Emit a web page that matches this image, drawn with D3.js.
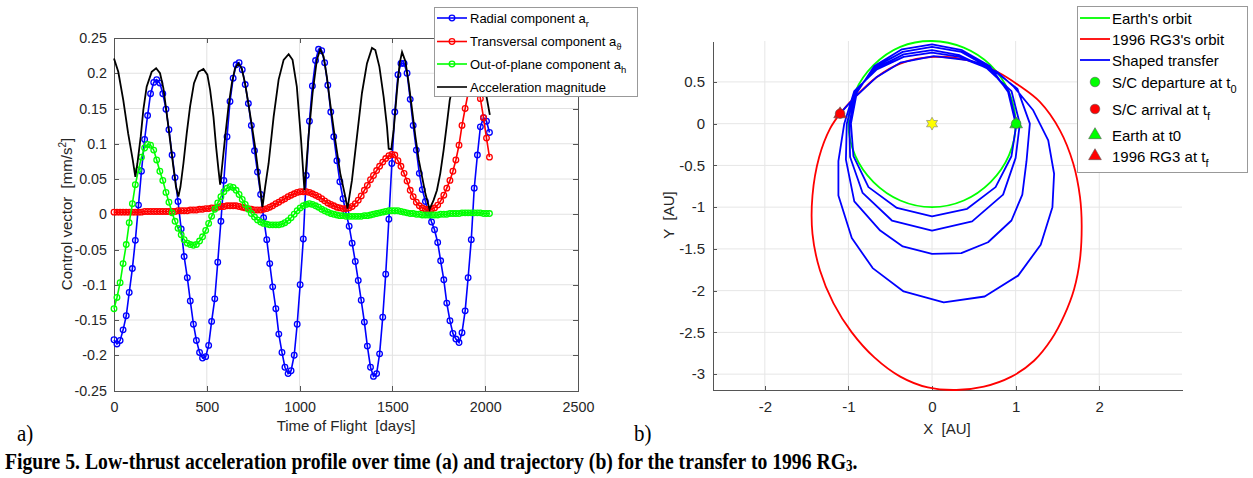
<!DOCTYPE html>
<meta charset="utf-8">
<script src="https://d3js.org/d3.v7.min.js"></script>
<style>
  body { margin: 0; background: #fff; }
  text { font-family: "Liberation Sans", Arial, sans-serif; fill: #262626; }
  .axis path, .axis line { stroke: #555; shape-rendering: crispEdges; }
</style>
<svg id="fig" width="1253" height="478"></svg>
<script>

// ---------- panel a) : control vector over time of flight ----------
var tofDays = [0,16,33,49,66,82,99,115,132,148,
  165,181,197,214,230,247,263,280,296,313,
  329,345,362,378,395,411,428,444,461,477,
  494,510,526,543,559,576,592,609,625,642,
  658,674,691,707,724,740,757,773,790,806,
  823,839,855,872,888,905,921,938,954,971,
  987,1003,1020,1036,1053,1069,1086,1102,1119,1135,
  1152,1168,1184,1201,1217,1234,1250,1267,1283,1300,
  1316,1332,1349,1365,1382,1398,1415,1431,1448,1464,
  1481,1497,1513,1530,1546,1563,1579,1596,1612,1629,
  1645,1661,1678,1694,1711,1727,1744,1760,1777,1793,
  1810,1826,1842,1859,1875,1892,1908,1925,1941,1958,
  1974,1991,2007,2023];

var radialAcc = [-0.178,-0.184,-0.179,-0.164,-0.144,-0.111,-0.077,-0.037,0.013,0.061,
  0.106,0.140,0.171,0.187,0.191,0.186,0.171,0.149,0.120,0.084,
  0.052,0.018,-0.021,-0.060,-0.090,-0.123,-0.156,-0.179,-0.196,-0.204,
  -0.202,-0.186,-0.152,-0.120,-0.068,-0.010,0.048,0.110,0.160,0.193,
  0.212,0.215,0.205,0.184,0.157,0.126,0.090,0.060,0.028,-0.005,
  -0.036,-0.070,-0.103,-0.134,-0.170,-0.196,-0.217,-0.226,-0.222,-0.200,
  -0.156,-0.100,-0.035,0.055,0.132,0.182,0.218,0.234,0.232,0.215,
  0.183,0.145,0.110,0.076,0.046,0.022,0.002,-0.017,-0.041,-0.067,
  -0.094,-0.122,-0.153,-0.187,-0.217,-0.230,-0.226,-0.198,-0.146,-0.085,
  -0.007,0.072,0.145,0.198,0.214,0.214,0.200,0.163,0.126,0.091,
  0.058,0.035,0.018,0.002,-0.011,-0.022,-0.040,-0.066,-0.093,-0.126,
  -0.151,-0.169,-0.177,-0.182,-0.168,-0.137,-0.090,-0.036,0.037,0.084,
  0.124,0.137,0.132,0.116];

var transversalAcc = [0.003,0.003,0.003,0.003,0.003,0.003,0.003,0.003,0.003,0.003,
  0.004,0.004,0.004,0.004,0.004,0.004,0.004,0.004,0.004,0.004,
  0.004,0.005,0.005,0.005,0.005,0.006,0.006,0.006,0.007,0.007,
  0.008,0.008,0.009,0.009,0.010,0.011,0.011,0.012,0.012,0.012,
  0.012,0.011,0.010,0.009,0.008,0.007,0.006,0.006,0.006,0.007,
  0.008,0.010,0.012,0.015,0.017,0.020,0.022,0.025,0.027,0.029,
  0.031,0.032,0.032,0.032,0.031,0.029,0.027,0.025,0.022,0.019,
  0.016,0.014,0.012,0.010,0.009,0.008,0.008,0.009,0.011,0.015,
  0.020,0.026,0.034,0.041,0.049,0.055,0.062,0.068,0.074,0.079,
  0.083,0.085,0.084,0.076,0.068,0.058,0.047,0.034,0.025,0.017,
  0.012,0.009,0.007,0.007,0.007,0.009,0.013,0.019,0.027,0.037,
  0.048,0.061,0.077,0.098,0.126,0.150,0.172,0.192,0.203,0.190,
  0.164,0.137,0.108,0.081];

var outOfPlaneAcc = [-0.134,-0.118,-0.097,-0.070,-0.043,-0.012,0.015,0.042,0.063,0.081,
  0.094,0.099,0.098,0.091,0.077,0.061,0.048,0.031,0.017,0.002,
  -0.010,-0.020,-0.029,-0.036,-0.041,-0.043,-0.044,-0.043,-0.038,-0.032,
  -0.023,-0.013,-0.003,0.007,0.016,0.025,0.032,0.037,0.039,0.038,
  0.034,0.028,0.021,0.014,0.007,0.001,-0.004,-0.008,-0.011,-0.013,
  -0.014,-0.015,-0.015,-0.015,-0.015,-0.014,-0.012,-0.009,-0.005,0.000,
  0.005,0.009,0.012,0.014,0.015,0.014,0.012,0.010,0.007,0.005,
  0.003,0.001,0.000,-0.001,-0.002,-0.002,-0.003,-0.003,-0.003,-0.003,
  -0.003,-0.003,-0.002,-0.002,-0.001,0.000,0.001,0.002,0.003,0.004,
  0.005,0.005,0.005,0.005,0.004,0.003,0.002,0.001,0.001,0.000,
  0.000,-0.001,-0.001,-0.001,-0.001,-0.001,-0.001,0.000,0.000,0.000,
  0.001,0.001,0.001,0.001,0.002,0.002,0.002,0.002,0.002,0.002,
  0.002,0.001,0.001,0.001];

// acceleration magnitude, read as its own curve
var magnitudeDays = [0,23,50,76,101,115,126,144,158,176,203,227,248,266,284,302,320,334,347,358,
  374,392,410,431,455,482,503,518,536,550,563,572,584,599,617,635,652,670,688,706,
  724,742,760,778,790,800,815,833,860,887,914,941,962,985,1008,1026,1048,1070,1093,1111,
  1129,1147,1165,1192,1219,1243,1258,1282,1309,1336,1363,1390,1408,1430,1453,1471,1480,1494,1507,1525,
  1539,1552,1570,1588,1606,1624,1642,1660,1678,1700,1722,1740,1758,1776,1794,1809,1826,1842,1859,1875,
  1892,1908,1925,1941,1958,1974,1991,2007,2025];
var magnitudeAcc = [0.221,0.202,0.162,0.115,0.077,0.053,0.072,0.110,0.148,0.181,0.202,0.207,0.200,0.179,0.143,0.105,0.067,0.039,0.025,0.039,
  0.072,0.115,0.153,0.186,0.202,0.206,0.198,0.176,0.138,0.096,0.063,0.042,0.072,0.110,0.153,0.186,0.207,0.214,0.207,0.186,
  0.157,0.127,0.096,0.058,0.032,0.010,0.040,0.072,0.138,0.191,0.219,0.227,0.219,0.181,0.105,0.034,0.110,0.172,0.219,0.234,
  0.224,0.195,0.157,0.105,0.058,0.029,0.008,0.048,0.110,0.172,0.214,0.236,0.233,0.209,0.166,0.124,0.093,0.092,0.120,0.176,
  0.214,0.230,0.217,0.186,0.148,0.110,0.077,0.053,0.029,0.007,0.020,0.034,0.058,0.091,0.129,0.162,0.182,0.196,0.207,0.210,
  0.200,0.192,0.196,0.205,0.208,0.198,0.186,0.167,0.141];

var dayTicks = [0,500,1000,1500,2000,2500];
var accTicks = [-0.25,-0.2,-0.15,-0.1,-0.05,0,0.05,0.1,0.15,0.2,0.25];

// ---------- panel b) : trajectory in the ecliptic ----------
var earthOrbit = [[1.00,0.00],[0.92,0.38],[0.70,0.70],[0.38,0.91],[0.00,0.99],[-0.38,0.92],[-0.70,0.70],[-0.92,0.38],
  [-1.00,0.00],[-0.92,-0.38],[-0.70,-0.70],[-0.38,-0.92],[0.00,-1.00],[0.38,-0.92],[0.70,-0.70],[0.92,-0.38]];

var rg3Orbit = [[-1.10,0.12],[-0.94,0.30],[-0.66,0.56],[-0.38,0.72],[0.02,0.80],[0.42,0.76],[0.80,0.61],[1.05,0.45],
  [1.29,0.26],[1.53,-0.08],[1.69,-0.48],[1.77,-0.88],[1.79,-1.22],[1.77,-1.62],[1.70,-1.98],[1.58,-2.30],[1.43,-2.58],
  [1.22,-2.84],[0.95,-3.03],[0.62,-3.15],[0.29,-3.19],[-0.05,-3.16],[-0.38,-3.03],[-0.69,-2.80],[-0.96,-2.50],
  [-1.18,-2.15],[-1.34,-1.76],[-1.43,-1.32],[-1.43,-0.86],[-1.35,-0.40],[-1.22,-0.06]];

var shapedTransfer = [
  [1.00,0.00],[0.91,0.38],[0.69,0.69],[0.36,0.88],[0.00,0.95],[-0.36,0.89],[-0.69,0.69],[-0.90,0.37],
  [-0.97,0.00],[-0.94,-0.39],[-0.76,-0.76],[-0.42,-1.01],[0.00,-1.11],[0.42,-1.02],[0.76,-0.76],[0.95,-0.39],
  [1.01,0.00],[0.92,0.38],[0.67,0.68],[0.35,0.86],[0.00,0.92],[-0.35,0.86],[-0.68,0.68],[-0.91,0.38],
  [-0.99,0.00],[-0.98,-0.40],[-0.83,-0.83],[-0.48,-1.16],[0.00,-1.28],[0.48,-1.17],[0.85,-0.85],[1.00,-0.41],
  [1.05,0.00],[0.95,0.39],[0.66,0.66],[0.33,0.82],[0.00,0.88],[-0.34,0.83],[-0.66,0.67],[-0.92,0.38],
  [-1.02,0.00],[-1.03,-0.43],[-0.93,-0.93],[-0.62,-1.28],[-0.35,-1.47],[0.00,-1.56],[0.35,-1.55],[0.67,-1.42],
  [0.95,-1.16],[1.08,-0.85],[1.13,-0.45],
  [1.17,0.00],[1.02,0.42],[0.68,0.68],[0.33,0.80],[0.00,0.85],[-0.34,0.80],[-0.66,0.65],[-0.93,0.39],
  [-1.05,0.00],[-1.12,-0.45],[-1.12,-0.86],[-0.96,-1.37],[-0.71,-1.73],[-0.34,-2.01],[0.14,-2.14],[0.63,-2.07],
  [1.03,-1.82],[1.30,-1.45],[1.44,-1.00],[1.46,-0.60],[1.39,-0.20],[1.21,0.16],[0.98,0.44],
  [0.78,0.62],[0.42,0.76],[0.02,0.81],[-0.38,0.73],[-0.66,0.56],[-0.94,0.30],[-1.10,0.12]];

var departure = [1.006, 0.0];
var arrival = [-1.10, 0.12];
var sunPos = [0, 0];
var auTicksX = [-2,-1,0,1,2];
var auTicksY = [-3,-2.5,-2,-1.5,-1,-0.5,0,0.5];

var svg = d3.select("#fig");

// ======================= panel a =======================
var xA = d3.scaleLinear().domain([0, 2500]).range([114, 578]);
var yA = d3.scaleLinear().domain([-0.25, 0.25]).range([390.5, 38]);

var pa = svg.append("g");

// grid
pa.append("g").selectAll("line").data(dayTicks.slice(1, -1)).join("line")
  .attr("x1", d => xA(d)).attr("x2", d => xA(d))
  .attr("y1", yA(0.25)).attr("y2", yA(-0.25))
  .attr("stroke", "#e2e2e2");
pa.append("g").selectAll("line").data(accTicks.slice(1, -1)).join("line")
  .attr("x1", xA(0)).attr("x2", xA(2500))
  .attr("y1", d => yA(d)).attr("y2", d => yA(d))
  .attr("stroke", "#e2e2e2");

// axes (ticks inside, like matlab)
pa.append("g").attr("class", "axis").attr("transform", "translate(114,0)")
  .call(d3.axisLeft(yA).tickValues(accTicks).tickSizeInner(-5).tickSizeOuter(0).tickPadding(7).tickFormat(d => String(d)));
pa.append("g").attr("class", "axis").attr("transform", "translate(0,390.5)")
  .call(d3.axisBottom(xA).tickValues(dayTicks).tickSizeInner(-5).tickSizeOuter(0).tickPadding(11).tickFormat(d => String(d)));
pa.append("g").attr("class", "axis").attr("transform", "translate(578,0)")
  .call(d3.axisRight(yA).tickValues(accTicks).tickSizeInner(-5).tickSizeOuter(0).tickFormat(""));
pa.append("g").attr("class", "axis").attr("transform", "translate(0,38)")
  .call(d3.axisTop(xA).tickValues(dayTicks).tickSizeInner(-5).tickSizeOuter(0).tickFormat(""));
pa.selectAll(".axis text").style("font-size", "14.3px").style("fill", "#262626");

// component series: line + open circle markers
function drawSeries(values, color) {
  var g = pa.append("g");
  g.append("path").datum(values)
    .attr("d", d3.line().x((d, i) => xA(tofDays[i])).y(d => yA(d)))
    .attr("fill", "none").attr("stroke", color).attr("stroke-width", 1.6);
  g.selectAll("circle").data(values).join("circle")
    .attr("cx", (d, i) => xA(tofDays[i])).attr("cy", d => yA(d))
    .attr("r", 2.8).attr("fill", "none").attr("stroke", color).attr("stroke-width", 1.3);
}
drawSeries(radialAcc, "#0000ff");
drawSeries(transversalAcc, "#ff0000");
drawSeries(outOfPlaneAcc, "#00ff00");

pa.append("path").datum(magnitudeAcc)
  .attr("d", d3.line().x((d, i) => xA(magnitudeDays[i])).y(d => yA(d)))
  .attr("fill", "none").attr("stroke", "#000").attr("stroke-width", 1.8);

// axis labels
pa.append("text").attr("x", 346).attr("y", 431).attr("text-anchor", "middle")
  .style("font-size", "15px").text("Time of Flight\u00a0\u00a0[days]");
var yl = pa.append("text").attr("transform", "translate(72,214) rotate(-90)").attr("text-anchor", "middle")
  .style("font-size", "15px");
yl.append("tspan").text("Control vector\u00a0\u00a0[mm/s");
yl.append("tspan").attr("dy", -6).style("font-size", "10px").text("2");
yl.append("tspan").attr("dy", 6).text("]");

// legend a
var legA = pa.append("g");
legA.append("rect").attr("x", 434.5).attr("y", 7.5).attr("width", 203).attr("height", 89)
  .attr("fill", "#fff").attr("stroke", "#999");
var legAItems = [
  {label: "Radial component a", sub: "r", color: "#0000ff", mark: true},
  {label: "Transversal component a", sub: "\u03d1", color: "#ff0000", mark: true},
  {label: "Out-of-plane component a", sub: "h", color: "#00ff00", mark: true},
  {label: "Acceleration magnitude", sub: "", color: "#000", mark: false}
];
var legAy = [18, 41.5, 64, 87];
legAItems.forEach(function(it, i) {
  var cy = legAy[i];
  legA.append("line").attr("x1", 437).attr("x2", 467).attr("y1", cy).attr("y2", cy)
    .attr("stroke", it.color).attr("stroke-width", 1.6);
  if (it.mark) legA.append("circle").attr("cx", 452).attr("cy", cy).attr("r", 2.8)
    .attr("fill", "none").attr("stroke", it.color).attr("stroke-width", 1.3);
  var t = legA.append("text").attr("x", 470).attr("y", cy + 4.5).style("font-size", "13px").style("fill", "#000");
  t.append("tspan").text(it.label);
  if (it.sub) t.append("tspan").attr("dy", 4).style("font-size", "9.5px").text(it.sub);
});

// ======================= panel b =======================
var xB = d3.scaleLinear().domain([-2.62, 2.99]).range([713, 1182]);
var yB = d3.scaleLinear().domain([-3.19, 0.99]).range([390, 41]);

var pb = svg.append("g");
pb.append("g").selectAll("line").data(auTicksX).join("line")
  .attr("x1", d => xB(d)).attr("x2", d => xB(d)).attr("y1", 41).attr("y2", 390)
  .attr("stroke", "#e6e6e6");
pb.append("g").selectAll("line").data(auTicksY).join("line")
  .attr("x1", 713).attr("x2", 1182).attr("y1", d => yB(d)).attr("y2", d => yB(d))
  .attr("stroke", "#e6e6e6");

pb.append("g").attr("class", "axis").attr("transform", "translate(713,0)")
  .call(d3.axisLeft(yB).tickValues(auTicksY).tickSizeInner(-4).tickSizeOuter(0).tickPadding(8).tickFormat(d => String(d)));
pb.append("g").attr("class", "axis").attr("transform", "translate(0,390)")
  .call(d3.axisBottom(xB).tickValues(auTicksX).tickSizeInner(-4).tickSizeOuter(0).tickPadding(11).tickFormat(d => String(d)));
pb.selectAll(".axis text").style("font-size", "15px").style("fill", "#262626");

var orbitLine = d3.line().x(d => xB(d[0])).y(d => yB(d[1])).curve(d3.curveCatmullRomClosed);
pb.append("path").datum(earthOrbit).attr("d", orbitLine)
  .attr("fill", "none").attr("stroke", "#00ff00").attr("stroke-width", 1.8);
pb.append("path").datum(rg3Orbit).attr("d", orbitLine)
  .attr("fill", "none").attr("stroke", "#ff0000").attr("stroke-width", 1.8);
pb.append("path").datum(shapedTransfer)
  .attr("d", d3.line().x(d => xB(d[0])).y(d => yB(d[1])))
  .attr("fill", "none").attr("stroke", "#0000ff").attr("stroke-width", 1.8).attr("stroke-linejoin", "round");

var tri = d3.symbol().type(d3.symbolTriangle).size(70);
function marker(g, pos, color, shape) {
  var px = xB(pos[0]), py = yB(pos[1]);
  if (shape == "tri") {
    g.append("path").attr("d", tri).attr("transform", "translate(" + px + "," + (py + 0.5) + ")")
      .attr("fill", color).attr("stroke", "#555").attr("stroke-width", 0.6);
  } else {
    g.append("circle").attr("cx", px).attr("cy", py).attr("r", 4.8)
      .attr("fill", color).attr("stroke", "#555").attr("stroke-width", 0.6);
  }
}
marker(pb, departure, "#00ff00", "tri");
marker(pb, arrival, "#ff0000", "tri");
marker(pb, departure, "#00ff00", "dot");
marker(pb, arrival, "#ff0000", "dot");

// sun: six-pointed star
var starPts = d3.range(12).map(function(k) {
  var a = (-90 + k * 30) * Math.PI / 180, r = k % 2 ? 3.6 : 6.4;
  return [xB(sunPos[0]) + r * Math.cos(a), yB(sunPos[1]) + r * Math.sin(a)];
});
pb.append("path").attr("d", "M" + starPts.join("L") + "Z")
  .attr("fill", "#ffff00").attr("stroke", "#777").attr("stroke-width", 0.6);

pb.append("text").attr("x", 947).attr("y", 434).attr("text-anchor", "middle")
  .style("font-size", "15px").text("X\u00a0\u00a0[AU]");
pb.append("text").attr("transform", "translate(674,215) rotate(-90)").attr("text-anchor", "middle")
  .style("font-size", "15px").text("Y\u00a0\u00a0[AU]");

// legend b
var legB = pb.append("g");
legB.append("rect").attr("x", 1077.5).attr("y", 6.5).attr("width", 170).attr("height", 166)
  .attr("fill", "#fff").attr("stroke", "#999");
var legBItems = [
  {label: "Earth's orbit", sub: "", color: "#00ff00", kind: "line"},
  {label: "1996 RG3's orbit", sub: "", color: "#ff0000", kind: "line"},
  {label: "Shaped transfer", sub: "", color: "#0000ff", kind: "line"},
  {label: "S/C departure at t", sub: "0", color: "#00ff00", kind: "dot"},
  {label: "S/C arrival at t", sub: "f", color: "#ff0000", kind: "dot"},
  {label: "Earth at t0", sub: "", color: "#00ff00", kind: "tri"},
  {label: "1996 RG3 at t", sub: "f", color: "#ff0000", kind: "tri"}
];
var legBy = [18, 39, 60, 82, 109, 135, 156];
legBItems.forEach(function(it, i) {
  var cy = legBy[i];
  if (it.kind == "line") {
    legB.append("line").attr("x1", 1080).attr("x2", 1110).attr("y1", cy).attr("y2", cy)
      .attr("stroke", it.color).attr("stroke-width", 1.8);
  } else if (it.kind == "dot") {
    legB.append("circle").attr("cx", 1095).attr("cy", cy).attr("r", 4.8)
      .attr("fill", it.color).attr("stroke", "#555").attr("stroke-width", 0.6);
  } else {
    legB.append("path").attr("d", tri).attr("transform", "translate(1095," + cy + ")")
      .attr("fill", it.color).attr("stroke", "#555").attr("stroke-width", 0.6);
  }
  var t = legB.append("text").attr("x", 1112).attr("y", cy + 5.5).style("font-size", "15px").style("fill", "#000");
  t.append("tspan").text(it.label);
  if (it.sub) t.append("tspan").attr("dy", 5).style("font-size", "11px").text(it.sub);
});

// ======================= labels & caption =======================
var serif = "'Liberation Serif', 'Times New Roman', serif";
svg.append("text").attr("transform", "translate(17,441) scale(1,1.12)")
  .style("font-family", serif).style("font-size", "21px").style("fill", "#000")
  .text("a)");
svg.append("text").attr("transform", "translate(634,441) scale(1,1.12)")
  .style("font-family", serif).style("font-size", "21px").style("fill", "#000")
  .text("b)");

// the caption font in the figure is tall and narrow: fit width, then stretch vertically
var cap = svg.append("text").attr("transform", "translate(5,469) scale(1,1.22)")
  .style("font-family", serif).style("font-weight", "bold")
  .style("font-size", "20px").style("fill", "#000");
cap.append("tspan").text("Figure 5. Low-thrust acceleration profile over time (a) and trajectory (b) for the transfer to 1996 RG");
cap.append("tspan").attr("dy", 2).style("font-size", "13px").text("3");
cap.append("tspan").attr("dy", -2).text(".");
var capW = cap.node().getComputedTextLength();
cap.style("font-size", (20 * 852 / capW).toFixed(2) + "px");

</script>
